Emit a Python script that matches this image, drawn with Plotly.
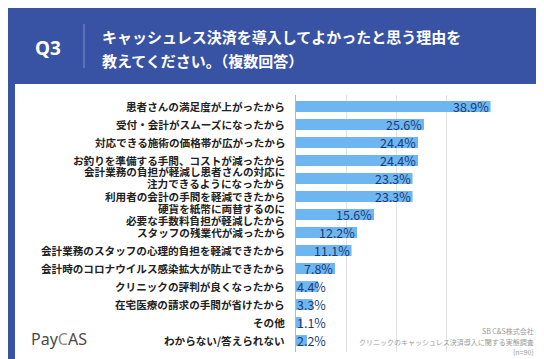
import plotly.graph_objects as go

W, H = 544, 359

categories = [
    "患者さんの満足度が上がったから",
    "受付・会計がスムーズになったから",
    "対応できる施術の価格帯が広がったから",
    "お釣りを準備する手間、コストが減ったから",
    "会計業務の負担が軽減し患者さんの対応に\n注力できるようになったから",
    "利用者の会計の手間を軽減できたから",
    "硬貨を紙幣に両替するのに\n必要な手数料負担が軽減したから",
    "スタッフの残業代が減ったから",
    "会計業務のスタッフの心理的負担を軽減できたから",
    "会計時のコロナウイルス感染拡大が防止できたから",
    "クリニックの評判が良くなったから",
    "在宅医療の請求の手間が省けたから",
    "その他",
    "わからない/答えられない",
]
values = [38.9, 25.6, 24.4, 24.4, 23.3, 23.3, 15.6, 12.2, 11.1, 7.8, 4.4, 3.3, 1.1, 2.2]
value_labels = [f"{v:.1f}%" for v in values]

title_q = "Q3"
title_lines = ["キャッシュレス決済を導入してよかったと思う理由を", "教えてください。（複数回答）"]
source_lines = ["SB C&S株式会社", "クリニックのキャッシュレス決済導入に関する実態調査", "(n=90)"]

BLUE_BG = "#3953a4"
BAR = "#6db6f2"
LABEL = "#1f3c72"
FONT = "Noto Sans CJK JP"
LINE_GAP = 11.2
# vertical nudge (px, upward) of a category label block, by category index
LABEL_NUDGE = {4: 1.0}

def px(x):
    return x / W

def py(y):
    return 1 - y / H

fig = go.Figure()
fig.add_trace(go.Bar(
    x=values, y=categories, orientation="h",
    marker=dict(color=BAR, line=dict(width=0)),
    width=0.6, hoverinfo="skip",
))

annotations = []
for k, (c, v, t) in enumerate(zip(categories, values, value_labels)):
    if v >= 6:
        annotations.append(dict(x=v, y=c, xref="x", yref="y", text=t, showarrow=False,
                                xanchor="right", xshift=0,
                                font=dict(family=FONT, size=12.5, color=LABEL)))
    else:
        annotations.append(dict(x=0, y=c, xref="x", yref="y", text=t, showarrow=False,
                                xanchor="left", xshift=-1,
                                font=dict(family=FONT, size=12.5, color=LABEL)))
    lines = c.split("\n")
    n = len(lines)
    for i, ln in enumerate(lines):
        shift = (n - 1) / 2 * LINE_GAP - i * LINE_GAP + LABEL_NUDGE.get(k, 0)
        annotations.append(dict(x=0, y=c, xref="x", yref="y", text=ln, showarrow=False,
                                xanchor="right", xshift=-9, yshift=shift,
                                font=dict(family=FONT, size=10.6, color="#222222", weight="bold")))

annotations.append(dict(x=px(40), y=py(40), xref="paper", yref="paper", text=title_q,
                        showarrow=False, xanchor="center", yanchor="middle",
                        font=dict(family="Noto Sans", size=19, color="white", weight="bold")))
for i, line in enumerate(title_lines):
    annotations.append(dict(x=px(92), y=py(28 + 24 * i), xref="paper", yref="paper", text=line,
                            showarrow=False, xanchor="left", yanchor="middle",
                            font=dict(family=FONT, size=15, color="white", weight="bold")))
for i, line in enumerate(source_lines):
    annotations.append(dict(x=px(528), y=py(323 + 10.5 * i), xref="paper", yref="paper", text=line,
                            showarrow=False, xanchor="right", yanchor="middle",
                            font=dict(family=FONT, size=7, color="#9a9a9a")))
annotations.append(dict(x=px(21), y=py(331), xref="paper", yref="paper",
                        text="Pay<span style='color:#8c8c8c'>C</span>AS",
                        showarrow=False, xanchor="left", yanchor="middle",
                        font=dict(family="Noto Sans", size=16, color="#4a4a4a")))

shapes = [
    dict(type="rect", xref="paper", yref="paper", x0=px(7), x1=px(536), y0=py(352), y1=py(76),
         fillcolor="white", line=dict(width=0), layer="below"),
    dict(type="line", xref="paper", yref="paper", x0=px(76), x1=px(76), y0=py(16), y1=py(60),
         line=dict(color="#7d8fc6", width=1)),
]

fig.update_layout(
    width=W, height=H,
    margin=dict(l=0, r=0, t=0, b=0),
    paper_bgcolor=BLUE_BG, plot_bgcolor="white",
    showlegend=False,
    xaxis=dict(domain=[px(288), px(488)], range=[0, 40], tickvals=[0, 10, 20, 30, 40],
               showticklabels=False, showgrid=True, gridcolor="#e2e2e2", gridwidth=1,
               zeroline=False, showline=False, fixedrange=True),
    yaxis=dict(domain=[py(344), py(87)], autorange="reversed", showline=True,
               linecolor="#b8b8b8", linewidth=1, showticklabels=False, ticks="",
               fixedrange=True),
    bargap=0.4,
    annotations=annotations,
    shapes=shapes,
)

fig.write_html("out.html")
